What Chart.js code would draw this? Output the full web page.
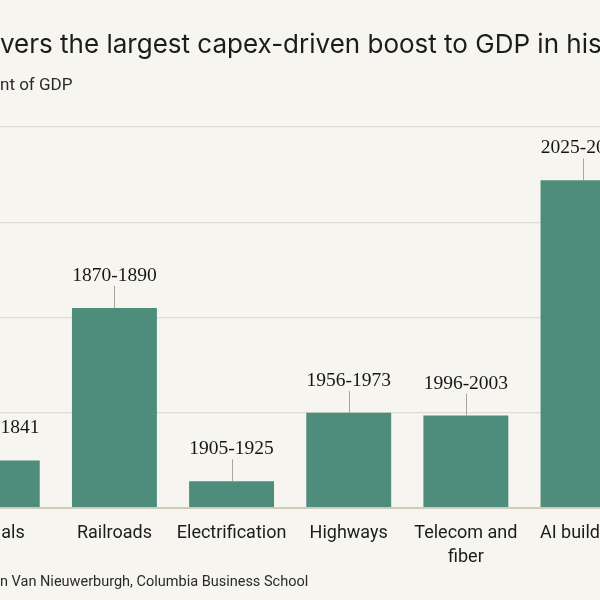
<!DOCTYPE html>
<html>
<head>
<meta charset="utf-8">
<script src="https://cdn.jsdelivr.net/npm/chart.js@4.4.1/dist/chart.umd.min.js"></script>
<style>
  html, body { margin: 0; padding: 0; background: #f6f5ef; }
  #frame { position: relative; width: 600px; height: 600px; overflow: hidden; background: #f6f5ef; }
  #chartBox { position: absolute; left: -80px; top: 0; width: 760px; height: 600px; }
  .txt { position: absolute; margin: 0; white-space: nowrap; color: #1c1c1c; line-height: 1; }
  #title { font-family: Inter, sans-serif; font-size: 26px; top: 31px; }
  #subtitle { font-family: Roboto, sans-serif; font-size: 17px; top: 76px; color: #2a2a2a; }
  #source { font-family: Roboto, sans-serif; font-size: 14.5px; top: 575px; color: #2a2a2a; }
</style>
</head>
<body>
<div id="frame">
  <div id="chartBox"><canvas id="capexChart" width="760" height="600"></canvas></div>
  <div class="txt" id="title">AI buildout delivers the largest capex-driven boost to GDP in history</div>
  <div class="txt" id="subtitle">Investment as a percent of GDP</div>
  <div class="txt" id="source">Source: Stijn Van Nieuwerburgh, Columbia Business School</div>
</div>
<script>
// Data (gridlines every 1 unit, 0..4)
const categories = ['Canals', 'Railroads', 'Electrification', 'Highways', ['Telecom and', 'fiber'], 'AI buildout'];
const periods = ['1816-1841', '1870-1890', '1905-1925', '1956-1973', '1996-2003', '2025-2026'];
const capexShare = [0.5, 2.1, 0.28, 1.0, 0.97, 3.44];
const yTicks = [0, 1, 2, 3, 4];

const BAR_COLOR = '#4e8d7c';
const GRID_COLOR = '#dedcd3';
const BASE_COLOR = '#d3c9ba';

// The reference is a crop of a wider graphic: shift texts so the hidden prefix falls off the left edge
function cropLeft(id, hiddenPrefix) {
  const el = document.getElementById(id);
  const cs = getComputedStyle(el);
  const ctx = document.createElement('canvas').getContext('2d');
  ctx.font = `${cs.fontWeight} ${cs.fontSize} ${cs.fontFamily}`;
  el.style.left = (-ctx.measureText(hiddenPrefix).width) + 'px';
}
cropLeft('title', 'AI buildout deli');
cropLeft('subtitle', 'Investment as a perce');
cropLeft('source', 'Source: Stij');

// Period labels with a short leader line above each bar
const periodLabels = {
  id: 'periodLabels',
  afterDatasetsDraw(chart) {
    const { ctx } = chart;
    const meta = chart.getDatasetMeta(0);
    ctx.save();
    meta.data.forEach((bar, i) => {
      ctx.strokeStyle = '#a9a59c';
      ctx.lineWidth = 1;
      ctx.beginPath();
      ctx.moveTo(Math.round(bar.x) + 0.5, bar.y);
      ctx.lineTo(Math.round(bar.x) + 0.5, bar.y - 22);
      ctx.stroke();

      ctx.fillStyle = '#161616';
      ctx.font = '19.5px "Liberation Serif", serif';
      ctx.textAlign = 'center';
      ctx.textBaseline = 'alphabetic';
      ctx.fillText(periods[i], bar.x, bar.y - 27);
    });
    ctx.restore();
  }
};

new Chart(document.getElementById('capexChart'), {
  type: 'bar',
  data: {
    labels: categories,
    datasets: [{
      data: capexShare,
      backgroundColor: BAR_COLOR,
      borderWidth: 0,
      categoryPercentage: 1,
      barPercentage: 0.725
    }]
  },
  options: {
    responsive: false,
    animation: false,
    layout: { padding: { left: 18.7, right: 38.4, top: 127, bottom: 0 } },
    plugins: {
      legend: { display: false },
      tooltip: { enabled: false }
    },
    scales: {
      x: {
        grid: { display: false },
        border: { display: false },
        ticks: {
          color: '#1c1c1c',
          padding: 6,
          autoSkip: false,
          maxRotation: 0,
          font: { family: 'Roboto', size: 18, lineHeight: 1.3 }
        },
        afterFit: (scale) => { scale.height = 92; }
      },
      y: {
        min: yTicks[0],
        max: yTicks[yTicks.length - 1],
        afterBuildTicks: (scale) => { scale.ticks = yTicks.map(v => ({ value: v })); },
        ticks: { display: false },
        border: { display: false },
        grid: {
          drawTicks: false,
          color: (c) => c.tick && c.tick.value === 0 ? BASE_COLOR : GRID_COLOR,
          lineWidth: (c) => c.tick && c.tick.value === 0 ? 2 : 1.2
        },
        afterFit: (scale) => { scale.width = 0; }
      }
    }
  },
  plugins: [periodLabels]
});
</script>
</body>
</html>
